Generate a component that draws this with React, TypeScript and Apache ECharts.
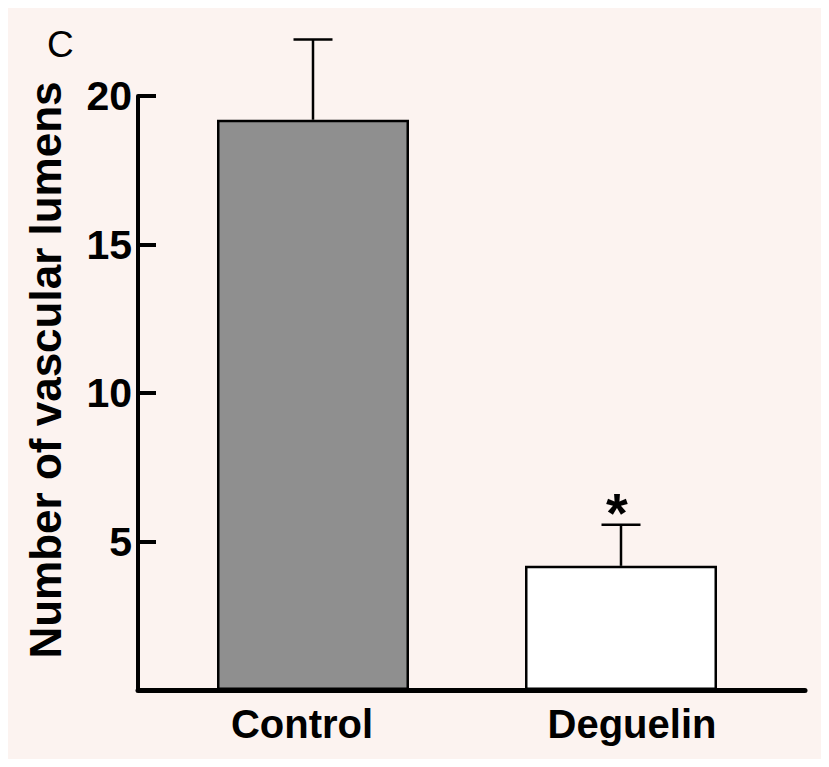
import React, { useEffect, useRef } from "react";
import * as echarts from "echarts";

const categories = ["Control", "Deguelin"];
const means = [19.2, 4.18];
const errors = [2.7, 1.38];
const significance = ["", "*"];
const yTicks = [0, 5, 10, 15, 20];

const FONT = "'Liberation Sans', Arial, Helvetica, sans-serif";
const fills = ["#8f8f8f", "#ffffff"];

export default function App() {
  const ref = useRef<HTMLDivElement>(null);
  useEffect(() => {
    if (!ref.current) return;
    const chart = echarts.init(ref.current, undefined, { renderer: "svg" });
    const yMin = yTicks[0];
    const yMax = yTicks[yTicks.length - 1];
    const step = yTicks[1] - yTicks[0];
    chart.setOption({
      animation: false,
      backgroundColor: "#fcf3f0",
      grid: [
        { left: 130, right: 24, top: 88, bottom: 69 },
        { left: 151, right: 54, top: 88, bottom: 69 },
      ],
      xAxis: [
        {
          type: "value",
          gridIndex: 0,
          min: 0,
          max: 1,
          axisLine: { show: true, lineStyle: { color: "#000", width: 5 } },
          axisTick: { show: false },
          axisLabel: { show: false },
          splitLine: { show: false },
        },
        {
          type: "category",
          gridIndex: 1,
          data: categories,
          axisLine: { show: false },
          axisTick: { show: false },
          axisLabel: {
            interval: 0,
            hideOverlap: false,
            margin: 14,
            color: "#000",
            fontFamily: FONT,
            fontWeight: "bold",
            fontSize: 40,
            formatter: (v: string) => (v === categories[0] ? `{c0|${v}}` : `{c1|${v}}`),
            rich: {
              c0: { fontFamily: FONT, fontWeight: "bold", fontSize: 40, color: "#000", padding: [0, 22, 0, 0] },
              c1: { fontFamily: FONT, fontWeight: "bold", fontSize: 40, color: "#000", padding: [0, 0, 0, 22] },
            },
          },
        },
      ],
      yAxis: [
        {
          type: "value",
          gridIndex: 0,
          min: yMin,
          max: yMax,
          interval: step,
          axisLine: { show: true, lineStyle: { color: "#000", width: 4 } },
          axisTick: { show: true, inside: true, length: 18, lineStyle: { color: "#000", width: 4 } },
          axisLabel: {
            margin: 6,
            color: "#000",
            fontFamily: FONT,
            fontWeight: "bold",
            fontSize: 41,
            formatter: (v: number) => (v === 0 ? "" : String(v)),
          },
          splitLine: { show: false },
        },
        {
          type: "value",
          gridIndex: 1,
          min: yMin,
          max: yMax,
          interval: step,
          show: false,
        },
      ],
      graphic: [
        {
          type: "text",
          x: 39,
          y: 18,
          style: {
            text: "C",
            fontFamily: FONT,
            fontSize: 37,
            fill: "#000",
            verticalAlign: "top",
          },
        },
        {
          type: "text",
          x: 37,
          y: 362,
          rotation: Math.PI / 2,
          style: {
            text: "Number of vascular lumens",
            font: "bold 44px 'Liberation Sans', Arial, sans-serif",
            fill: "#000",
            align: "center",
            verticalAlign: "middle",
          },
        },
      ],
      series: [
        {
          type: "bar",
          xAxisIndex: 1,
          yAxisIndex: 1,
          data: means.map((v, i) => ({ value: v, itemStyle: { color: fills[i] } })),
          barWidth: 192,
          itemStyle: { borderColor: "#000", borderWidth: 2.5 },
          z: 3,
        },
        {
          type: "custom",
          xAxisIndex: 1,
          yAxisIndex: 1,
          clip: false,
          z: 4,
          data: means.map((m, i) => [i, m, m + errors[i]]),
          renderItem: (params: any, api: any) => {
            const i = api.value(0);
            const base = api.coord([i, api.value(1)]);
            const top = api.coord([i, api.value(2)]);
            const capHalf = 19.5;
            const style = { stroke: "#000", lineWidth: 2.5 };
            const children: any[] = [
              { type: "line", shape: { x1: base[0], y1: base[1], x2: top[0], y2: top[1] }, style },
              { type: "line", shape: { x1: top[0] - capHalf, y1: top[1], x2: top[0] + capHalf, y2: top[1] }, style },
            ];
            const sig = significance[params.dataIndex];
            if (sig) {
              children.push({
                type: "text",
                x: top[0] - 4,
                y: top[1] - 12,
                style: {
                  text: sig,
                  font: "bold 56px 'Liberation Sans', Arial, sans-serif",
                  fill: "#000",
                  align: "center",
                  verticalAlign: "middle",
                },
              });
            }
            return { type: "group", children };
          },
        },
      ],
    });
    return () => chart.dispose();
  }, []);
  return <div ref={ref} style={{ width: 821, height: 751 }} />;
}
